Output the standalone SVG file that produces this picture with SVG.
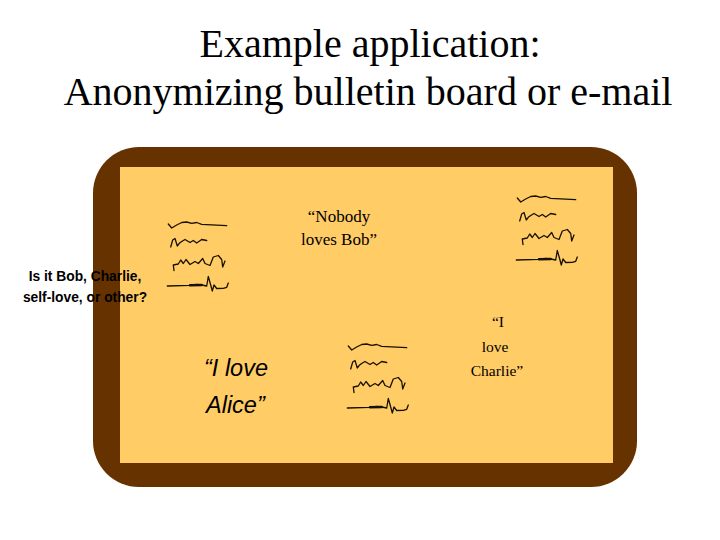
<svg xmlns="http://www.w3.org/2000/svg" xmlns:xlink="http://www.w3.org/1999/xlink" width="720" height="540" viewBox="0 0 720 540">
<style>
.title{font-family:"Liberation Serif","Times New Roman",serif;font-size:40px;fill:#000;text-anchor:middle}
.serif{font-family:"Liberation Serif","Times New Roman",serif;font-size:17px;fill:#000;text-anchor:middle}
.serifs{font-family:"Liberation Serif","Times New Roman",serif;font-size:15.5px;fill:#000;text-anchor:middle}
.q{font-family:"Liberation Sans",Arial,sans-serif;font-size:13.8px;font-weight:bold;fill:#000;text-anchor:middle}
.it{font-family:"Liberation Sans",Arial,sans-serif;font-size:23.5px;font-style:italic;fill:#000}
.scr{fill:none;stroke:#1a1000;stroke-width:1.3;stroke-linejoin:round;stroke-linecap:round}
</style>
<defs>
<g id="scribble" class="scr">
<polyline points="168.3,224 171.7,228 176.7,225 181.7,222.5 186.7,222 191.7,223.3 196.7,222.5 201.7,224.3 226.7,225.7"/>
<polyline points="170.7,247 172.7,240 175,238.5 177.3,246 179.3,243.3 181.7,241.5 185,239.5 190,242.5 193.3,240.5 196.7,243 201.7,239.5 206.7,240.5"/>
<polyline points="174,270.5 173.3,265 178.3,264 180.7,260 183.3,263.5 186,259.5 190,264.5 195,261.5 198.3,263.5 202.7,258.5 205,263.5 210,265.5 213.3,257 218.3,255.5 221.7,259.5 222.7,267 225,261"/>
<polyline points="167.3,286 190,285.3 196.7,284.3 201.7,285 206.7,286 208.3,276.5 210.7,285 212.3,291 214,285 216.7,288.5 223.3,288.3 226.7,287.3 228.3,283"/>
<path d="M190,285.3 L201.7,285" stroke-width="2.4"/>
</g>
</defs>
<rect width="720" height="540" fill="#fff"/>
<g id="title">
<text class="title" x="370" y="57">Example application:</text>
<text class="title" x="368" y="105">Anonymizing bulletin board or e-mail</text>
</g>
<g id="board">
<rect x="93" y="147" width="544" height="340" rx="46" ry="46" fill="#663300"/>
<rect x="120" y="167" width="493" height="296" fill="#ffcc66"/>
</g>
<g id="msg1">
<use xlink:href="#scribble"/>
</g>
<g id="msg2">
<use xlink:href="#scribble" transform="translate(349,-26)"/>
</g>
<g id="msg3">
<use xlink:href="#scribble" transform="translate(180,122)"/>
</g>
<g id="nobody">
<text class="serif" x="339" y="222">“Nobody</text>
<text class="serif" x="339" y="245">loves Bob”</text>
</g>
<g id="question">
<text class="q" x="85" y="281">Is it Bob, Charlie,</text>
<text class="q" x="85" y="302">self-love, or other?</text>
</g>
<g id="alice">
<text class="it" x="204" y="376">“I love</text>
<text class="it" x="206" y="413">Alice”</text>
</g>
<g id="charlie">
<text class="serifs" x="498" y="327">“I</text>
<text class="serifs" x="495" y="352">love</text>
<text class="serifs" x="497" y="376">Charlie”</text>
</g>
<g id="connectors"/>
</svg>
